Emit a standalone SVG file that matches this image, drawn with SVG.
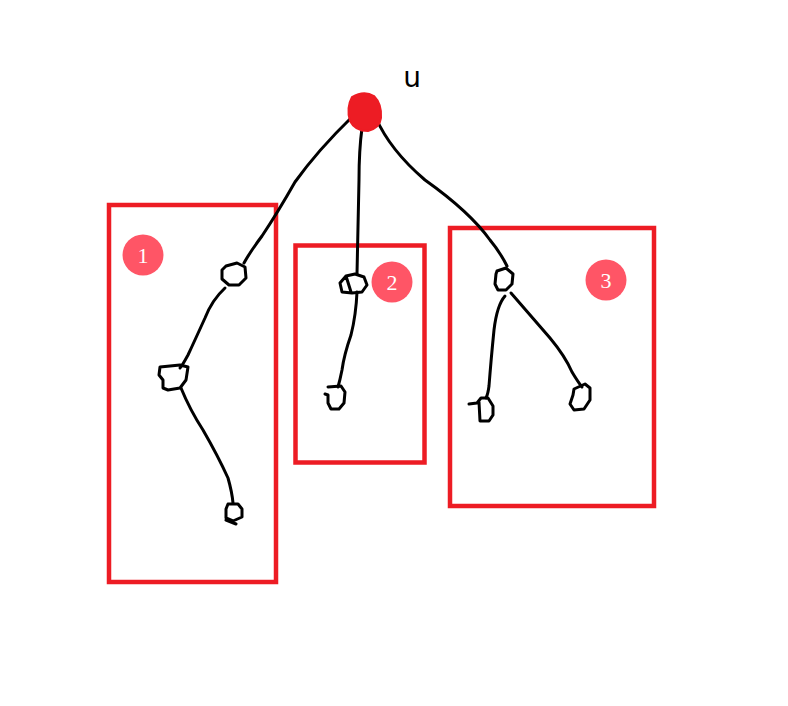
<svg xmlns="http://www.w3.org/2000/svg" width="788" height="706" viewBox="0 0 788 706">
<style>
.box{fill:none;stroke:#ed1c24;stroke-width:4.5}
.edge{fill:none;stroke:#000;stroke-width:3;stroke-linecap:round;stroke-linejoin:round}
.nd{fill:none;stroke:#000;stroke-width:3;stroke-linecap:round;stroke-linejoin:round}
.badge{fill:#ff5566}
.num{fill:#fff;font-family:"Liberation Serif",serif;font-size:22px;text-anchor:middle}
</style>
<rect width="788" height="706" fill="#fff"/>
<g id="box1"><rect class="box" x="109" y="205" width="167" height="377"/><circle class="badge" cx="143" cy="255" r="20.5"/><text class="num" x="143" y="263">1</text></g>
<g id="box2"><rect class="box" x="295.5" y="245.5" width="129" height="217"/><circle class="badge" cx="392" cy="282" r="20.5"/><text class="num" x="392" y="290">2</text></g>
<g id="box3"><rect class="box" x="450" y="228" width="204" height="278"/><circle class="badge" cx="606" cy="280" r="20.5"/><text class="num" x="606" y="288">3</text></g>
<g id="edges">
<path class="edge" d="M352,117 Q318,150 295,182 Q278,212 262,236 Q250,252 244,263"/>
<path class="edge" d="M362,128 Q359,150 359,180 Q358,230 357,274"/>
<path class="edge" d="M376,118 Q390,150 425,180 Q470,212 490,240 Q500,252 507,266"/>
<path class="edge" d="M225,288 Q212,300 205,318 Q195,340 188,355 Q182,366 180,368"/>
<path class="edge" d="M181,388 Q190,410 203,430 Q218,456 228,478 Q232,492 233,503"/>
<path class="edge" d="M357,292 Q356,315 351,335 Q344,355 342,370 Q340,380 338,387"/>
<path class="edge" d="M505,296 Q497,305 494,330 Q491,360 489,386 Q488,394 486,398"/>
<path class="edge" d="M511,293 Q530,315 550,338 Q565,356 572,372 Q578,382 582,387"/>
</g>
<g id="root"><path d="M352,97 Q364,90 374,96 Q382,104 381,118 Q380,128 368,131 Q355,131 350,121 Q346,108 352,97 Z" fill="#ed1c24" stroke="#ed1c24" stroke-width="2"/></g>
<g id="label-u"><text x="412" y="87" font-family="'DejaVu Sans',sans-serif" font-size="28" text-anchor="middle" fill="#000">u</text></g>
<g id="nodeA1"><path class="nd" d="M226,266 L237,263 L245,267 L246,278 L239,285 L229,285 L222,279 L222,270 Z"/></g>
<g id="nodeA2"><path class="nd" d="M160,367 L180,365 L188,367 L186,380 L180,388 L168,390 L163,388 L163,380 L159,375 Z"/></g>
<g id="nodeA3"><path class="nd" d="M228,504 L238,504 L242,509 L242,517 L233,521 L226,518 L226,509 L228,504 M226,520 L236,524"/></g>
<g id="nodeB1"><path class="nd" d="M346,276 L340,283 L342,292 L352,293 L362,292 L367,285 L364,277 L355,274 L346,276 L351,292"/></g>
<g id="nodeB2"><path class="nd" d="M328,387 L341,386 L345,392 L344,403 L339,409 L331,409 L328,403 L328,395 L325,394"/></g>
<g id="nodeC1"><path class="nd" d="M497,271 L506,268 L513,274 L512,284 L506,290 L498,290 L495,284 L496,274 Z"/></g>
<g id="nodeC2"><path class="nd" d="M469,404 L477,403 L481,398 L488,398 L493,406 L493,415 L489,421 L480,421 L479,402"/></g>
<g id="nodeC3"><path class="nd" d="M574,389 L585,384 L590,388 L590,400 L584,409 L574,410 L570,404 L573,395 Z"/></g>
</svg>
